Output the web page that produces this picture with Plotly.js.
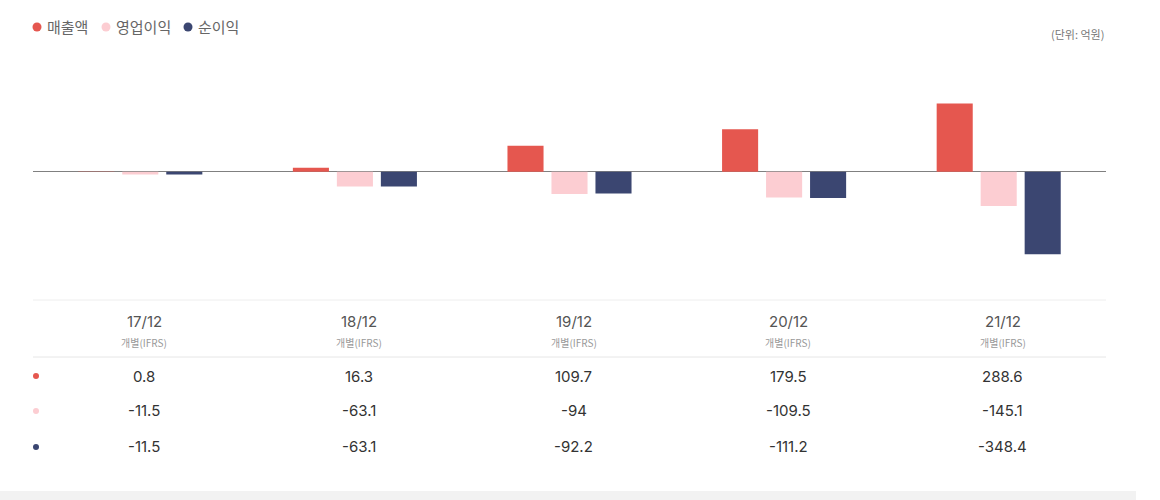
<!DOCTYPE html>
<html>
<head>
<meta charset="utf-8">
<script src="https://cdn.plot.ly/plotly-3.0.1.min.js"></script>
<style>
html,body{margin:0;padding:0;background:#fff;}
#chart{width:1160px;height:500px;}
</style>
</head>
<body>
<div id="chart"></div>
<script>
const categories = ['17/12', '18/12', '19/12', '20/12', '21/12'];
const subLabel = '개별(IFRS)';
const seriesNames = ['매출액', '영업이익', '순이익'];
const revenue = [0.8, 16.3, 109.7, 179.5, 288.6];
const operatingProfit = [-11.5, -63.1, -94, -109.5, -145.1];
const netProfit = [-11.5, -63.1, -92.2, -111.2, -348.4];
const unitLabel = '(단위: 억원)';

const colors = ['#e5574f', '#fccdd2', '#3b4671'];
const seriesValues = [revenue, operatingProfit, netProfit];
const FONT = '"Noto Sans CJK KR", "Noto Sans", sans-serif';
const NUMFONT = 'Inter, "Noto Sans CJK KR", sans-serif';

// layout geometry (pixels)
const W = 1160, H = 500, mL = 33, mR = 54, mT = 60, mB = 210;
const plotH = H - mT - mB;
const py = p => (H - mB - p) / plotH;          // pixel y -> paper y
const px = p => (p - mL) / (W - mL - mR);      // pixel x -> paper x

const traces = seriesValues.map((vals, i) => ({
  type: 'bar',
  x: categories,
  y: vals,
  name: seriesNames[i],
  marker: {color: colors[i]},
  showlegend: false,
  hoverinfo: 'skip'
}));

const annotations = [];
const shapes = [];

// legend (manual, dots + text)
const legendDotX = [37, 106, 188];
seriesNames.forEach((n, i) => {
  shapes.push({type: 'circle', xref: 'paper', yref: 'paper',
    xsizemode: 'pixel', ysizemode: 'pixel',
    xanchor: px(legendDotX[i]), yanchor: py(27),
    x0: -4.5, x1: 4.5, y0: -4.5, y1: 4.5,
    fillcolor: colors[i], line: {width: 0}});
  annotations.push({
    xref: 'paper', yref: 'paper', x: px(legendDotX[i] + 8), y: py(27),
    xanchor: 'left', yanchor: 'middle', showarrow: false,
    text: n,
    font: {family: FONT, size: 15, color: '#666'}
  });
});

// unit label
annotations.push({
  xref: 'paper', yref: 'paper', x: px(1106), y: py(34),
  xanchor: 'right', yanchor: 'middle', showarrow: false,
  text: unitLabel, font: {family: FONT, size: 11, color: '#777'}
});

// table header
categories.forEach(c => {
  annotations.push({
    xref: 'x', yref: 'paper', x: c, y: py(321), xshift: 4,
    xanchor: 'center', yanchor: 'middle', showarrow: false,
    text: c, font: {family: NUMFONT, size: 15, color: '#555'}
  });
  annotations.push({
    xref: 'x', yref: 'paper', x: c, y: py(342), xshift: 4,
    xanchor: 'center', yanchor: 'middle', showarrow: false,
    text: subLabel, font: {family: FONT, size: 10, color: '#999'}
  });
});

// table rows
const rowY = [376, 411, 447];
seriesValues.forEach((vals, i) => {
  shapes.push({type: 'circle', xref: 'paper', yref: 'paper',
    xsizemode: 'pixel', ysizemode: 'pixel',
    xanchor: px(36), yanchor: py(rowY[i]),
    x0: -3, x1: 3, y0: -3, y1: 3,
    fillcolor: colors[i], line: {width: 0}});
  vals.forEach((v, j) => {
    annotations.push({
      xref: 'x', yref: 'paper', x: categories[j], y: py(rowY[i]), xshift: 4,
      xanchor: 'center', yanchor: 'middle', showarrow: false,
      text: String(v), font: {family: NUMFONT, size: 15, color: '#333'}
    });
  });
});

// table borders
[[300, '#eeeeee'], [357, '#e6e6e6']].forEach(([y, c]) => {
  shapes.push({type: 'line', xref: 'paper', yref: 'paper',
    x0: 0, x1: 1, y0: py(y), y1: py(y), line: {color: c, width: 1}});
});
// bottom grey band
shapes.push({type: 'rect', xref: 'paper', yref: 'paper',
  x0: px(0), x1: px(1136), y0: py(491), y1: py(500),
  fillcolor: '#f2f2f2', line: {width: 0}});

const layout = {
  width: W, height: H,
  margin: {l: mL, r: mR, t: mT, b: mB, pad: 0},
  paper_bgcolor: '#fff', plot_bgcolor: '#fff',
  barmode: 'group', bargap: 0.385, bargroupgap: 0.18,
  showlegend: false,
  xaxis: {showticklabels: false, showgrid: false, zeroline: false, showline: false,
          ticks: '', range: [-0.5, 4.5], fixedrange: true},
  yaxis: {showticklabels: false, showgrid: false, zeroline: true,
          zerolinecolor: '#808080', zerolinewidth: 1.5, range: [-500, 472],
          ticks: '', fixedrange: true},
  annotations: annotations,
  shapes: shapes,
  font: {family: FONT}
};

Plotly.newPlot('chart', traces, layout, {displayModeBar: false, staticPlot: true});
</script>
</body>
</html>
